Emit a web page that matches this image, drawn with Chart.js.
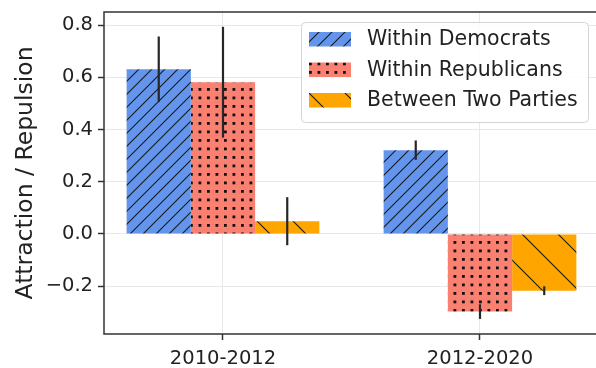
<!DOCTYPE html>
<html>
<head>
<meta charset="utf-8">
<script src="https://cdn.jsdelivr.net/npm/chart.js@4"></script>
<style>
  html, body { margin: 0; padding: 0; background: #fff; }
  canvas { display: block; }
</style>
</head>
<body>
<canvas id="chart-party" width="596" height="368"></canvas>
<script>
// periods on the x axis
const periods = ['2010-2012', '2012-2020'];

// series values and error half-widths
const withinDem    = [0.631, 0.321];
const withinDemErr = [0.125, 0.037];
const withinRep    = [0.581, -0.297];
const withinRepErr = [0.212, 0.028];
const between      = [0.049, -0.217];
const betweenErr   = [0.092, 0.017];

const seriesNames = ['Within Democrats', 'Within Republicans', 'Between Two Parties'];
const yTicks = [-0.2, 0.0, 0.2, 0.4, 0.6, 0.8];

const FONT = 'DejaVu Sans';
const INK = '#222';

function hatch(kind, bg) {
  const c = document.createElement('canvas');
  const s = kind === 'fwd' ? 13 : kind === 'back' ? 36 : 17;
  c.width = s; c.height = s;
  const g = c.getContext('2d');
  g.fillStyle = bg;
  g.fillRect(0, 0, s, s);
  g.strokeStyle = '#1a1a1a';
  g.fillStyle = '#111';
  g.lineWidth = 1.1;
  if (kind === 'fwd') {
    g.beginPath();
    g.moveTo(-2, s + 2); g.lineTo(s + 2, -2);
    g.moveTo(-2, 2); g.lineTo(2, -2);
    g.moveTo(s - 2, s + 2); g.lineTo(s + 2, s - 2);
    g.stroke();
  } else if (kind === 'back') {
    g.beginPath();
    g.moveTo(-2, -2); g.lineTo(s + 2, s + 2);
    g.moveTo(s - 2, -2); g.lineTo(s + 2, 2);
    g.moveTo(-2, s - 2); g.lineTo(2, s + 2);
    g.stroke();
  } else {
    [[3, 3], [11.5, 3], [3, 11.5], [11.5, 11.5]].forEach(([x, y]) => g.fillRect(x, y, 2.8, 2.8));
  }
  return g.createPattern(c, 'repeat');
}

const ctx = document.getElementById('chart-party').getContext('2d');
const fills = [
  hatch('fwd', '#6495ED'),
  hatch('dots', '#FA8072'),
  hatch('back', '#FFA500')
];
const values = [withinDem, withinRep, between];
const errors = [withinDemErr, withinRepErr, betweenErr];

const errorBars = {
  id: 'errorBars',
  afterDatasetsDraw(chart) {
    const y = chart.scales.y;
    const c = chart.ctx;
    c.save();
    c.strokeStyle = '#262626';
    c.lineWidth = 2.2;
    values.forEach((vals, i) => {
      chart.getDatasetMeta(i).data.forEach((bar, j) => {
        c.beginPath();
        c.moveTo(bar.x, y.getPixelForValue(vals[j] - errors[i][j]));
        c.lineTo(bar.x, y.getPixelForValue(vals[j] + errors[i][j]));
        c.stroke();
      });
    });
    // axes frame: the right spine sits just past the cropped edge in the source
    const a = chart.chartArea;
    c.strokeStyle = '#333';
    c.lineWidth = 1.5;
    c.beginPath();
    c.moveTo(a.right + 2, a.top);
    c.lineTo(a.left, a.top);
    c.lineTo(a.left, a.bottom);
    c.lineTo(a.right + 2, a.bottom);
    c.stroke();
    c.restore();
  }
};

const boxLegend = {
  id: 'boxLegend',
  afterDraw(chart) {
    const c = chart.ctx;
    c.save();
    c.beginPath();
    c.roundRect(301.5, 22.5, 287, 100, 4);
    c.fillStyle = 'rgba(255,255,255,0.85)';
    c.fill();
    c.strokeStyle = '#d4d4d4';
    c.lineWidth = 1;
    c.stroke();
    c.font = '20.5px "' + FONT + '"';
    c.textBaseline = 'middle';
    seriesNames.forEach((name, i) => {
      const top = 32 + i * 30.5;
      c.fillStyle = fills[i];
      c.fillRect(309, top, 42, 14.5);
      c.fillStyle = INK;
      c.fillText(name, 367, top + 8);
    });
    c.restore();
  }
};

new Chart(ctx, {
  type: 'bar',
  data: {
    datasets: seriesNames.map((name, i) => ({
      label: name,
      data: values[i].map((v, j) => ({ x: j, y: v })),
      backgroundColor: fills[i],
      borderWidth: 0,
      categoryPercentage: 0.75,
      barPercentage: 1.0
    }))
  },
  options: {
    responsive: false,
    animation: false,
    devicePixelRatio: 1,
    layout: { padding: { top: 12, right: 0, left: 0, bottom: 0 } },
    plugins: {
      legend: { display: false },
      tooltip: { enabled: false }
    },
    scales: {
      x: {
        type: 'linear',
        min: -0.463,
        max: 1.4514,
        offset: false,
        afterBuildTicks: s => { s.ticks = periods.map((p, i) => ({ value: i })); },
        afterFit: s => { s.height = 34; },
        grid: { offset: false, color: '#e8e8e8', lineWidth: 1, tickColor: '#333', tickLength: 6, tickWidth: 1.5 },
        border: { display: false },
        ticks: {
          callback: v => periods[v],
          color: INK,
          padding: 7,
          maxRotation: 0,
          font: { family: FONT, size: 19.5 }
        }
      },
      y: {
        min: -0.3828,
        max: 0.8498,
        afterBuildTicks: s => { s.ticks = yTicks.map(v => ({ value: v })); },
        afterFit: s => { s.width = 104; },
        grid: { color: '#e8e8e8', lineWidth: 1, tickColor: '#333', tickLength: 6, tickWidth: 1.5 },
        border: { display: false },
        ticks: {
          callback: v => (v < 0 ? '\u2212' : '') + Math.abs(v).toFixed(1),
          color: INK,
          padding: 5,
          font: { family: FONT, size: 19.5, lineHeight: 0.7 }
        },
        title: {
          display: true,
          text: 'Attraction / Repulsion',
          color: INK,
          padding: { top: 12, bottom: 0 },
          font: { family: FONT, size: 23.5 }
        }
      }
    }
  },
  plugins: [errorBars, boxLegend]
});
</script>
</body>
</html>
